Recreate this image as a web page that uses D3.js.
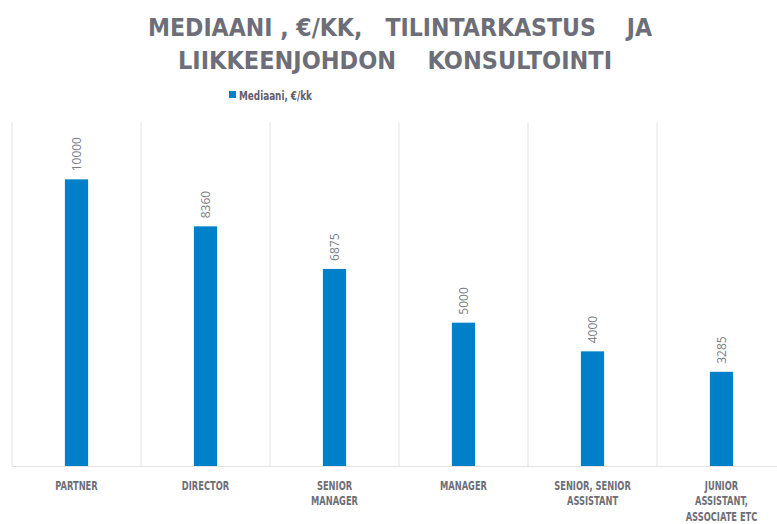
<!DOCTYPE html>
<html>
<head>
<meta charset="utf-8">
<script src="https://cdn.jsdelivr.net/npm/d3@7"></script>
<style>
  body { margin: 0; background: #fff; }
  text { white-space: pre; }
</style>
</head>
<body>
<svg id="chart" width="777" height="524"></svg>
<script>
var categories = ["PARTNER", "DIRECTOR", "SENIOR MANAGER", "MANAGER", "SENIOR, SENIOR ASSISTANT", "JUNIOR ASSISTANT, ASSOCIATE ETC"];
var categoryLines = [["PARTNER"], ["DIRECTOR"], ["SENIOR", "MANAGER"], ["MANAGER"], ["SENIOR, SENIOR", "ASSISTANT"], ["JUNIOR", "ASSISTANT,", "ASSOCIATE ETC"]];
var values = [10000, 8360, 6875, 5000, 4000, 3285];
var titleLines = ["MEDIAANI , €/KK,   TILINTARKASTUS    JA", "LIIKKEENJOHDON    KONSULTOINTI"];
var seriesName = "Mediaani, €/kk";

var svg = d3.select("#chart");
var grey = "#6d6e78";
var blue = "#0080c8";

var x = d3.scaleBand()
    .domain(categories)
    .range([12, 786])
    .paddingInner(0.82)
    .paddingOuter(0.41);

var xGrid = d3.scaleBand()
    .domain(categories)
    .range([12, 786]);

var y = d3.scaleLinear()
    .domain([0, 12000])
    .range([466, 122]);

// title
svg.append("g").selectAll("text")
    .data(titleLines)
    .enter().append("text")
    .attr("x", function(d, i) { return i == 0 ? 400 : 395; })
    .attr("y", function(d, i) { return 36 + i * 33; })
    .attr("text-anchor", "middle")
    .attr("textLength", function(d, i) { return i == 0 ? 504 : 434; })
    .attr("lengthAdjust", "spacingAndGlyphs")
    .style("font-family", "DejaVu Sans")
    .style("font-weight", "bold")
    .style("font-size", "25px")
    .attr("fill", grey)
    .text(function(d) { return d; });

// legend
svg.append("rect")
    .attr("x", 229)
    .attr("y", 91)
    .attr("width", 7)
    .attr("height", 7)
    .attr("fill", blue);

svg.append("text")
    .attr("x", 239)
    .attr("y", 100)
    .style("font-family", "DejaVu Sans Condensed")
    .style("font-weight", "bold")
    .style("font-size", "13px")
    .attr("textLength", 73)
    .attr("lengthAdjust", "spacingAndGlyphs")
    .attr("fill", "#5f6068")
    .text(seriesName);

// vertical gridlines between categories
var bounds = categories.map(function(c) { return xGrid(c); });
svg.append("g").selectAll("line")
    .data(bounds)
    .enter().append("line")
    .attr("x1", function(d) { return d; })
    .attr("x2", function(d) { return d; })
    .attr("y1", y(12000))
    .attr("y2", y(0))
    .attr("stroke", "#e3e3e3")
    .attr("stroke-width", 1);

// baseline
svg.append("line")
    .attr("x1", 12)
    .attr("x2", 786)
    .attr("y1", y(0) + 0.5)
    .attr("y2", y(0) + 0.5)
    .attr("stroke", "#e3e3e3")
    .attr("stroke-width", 1.2);

// bars
svg.append("g").selectAll("rect")
    .data(values)
    .enter().append("rect")
    .attr("x", function(d, i) { return x(categories[i]); })
    .attr("y", function(d) { return y(d); })
    .attr("width", x.bandwidth())
    .attr("height", function(d) { return y(0) - y(d); })
    .attr("fill", blue);

// value labels, rotated
svg.append("g").selectAll("text")
    .data(values)
    .enter().append("text")
    .attr("transform", function(d, i) {
        return "translate(" + (x(categories[i]) + x.bandwidth() / 2 + 4.5) + "," + (y(d) - 8) + ") rotate(-90)";
    })
    .style("font-family", "Open Sans")
    .style("font-size", "12px")
    .attr("fill", "#7b7c85")
    .text(function(d) { return d; });

// category labels (narrow, like the original font)
var catG = svg.append("g").selectAll("g")
    .data(categoryLines)
    .enter().append("g")
    .attr("transform", function(d, i) {
        return "translate(" + (xGrid(categories[i]) + xGrid.bandwidth() / 2) + ",0) scale(0.74,1)";
    })
    .append("text")
    .attr("text-anchor", "middle")
    .style("font-family", "DejaVu Sans Condensed")
    .style("font-weight", "bold")
    .style("font-size", "12.5px")
    .attr("fill", grey);

catG.selectAll("tspan")
    .data(function(d) { return d; })
    .enter().append("tspan")
    .attr("x", 0)
    .attr("y", function(d, j) { return 490 + j * 15.5; })
    .text(function(d) { return d; });
</script>
</body>
</html>
